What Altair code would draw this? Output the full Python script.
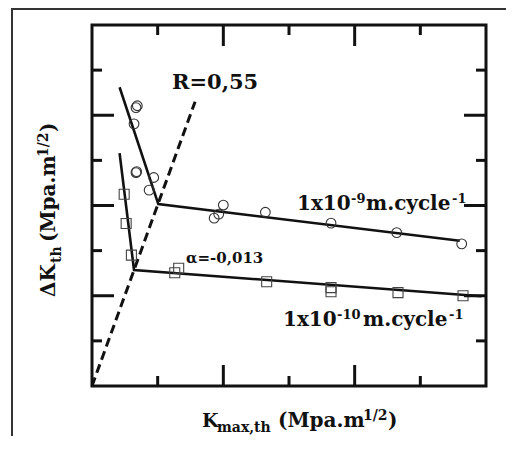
import altair as alt
import pandas as pd

# ---- data ----
circle_x = [0.69, 0.67, 0.64, 0.68, 0.67, 0.94, 0.87, 2.00, 1.93, 1.86, 2.64, 3.64, 4.64, 5.63]
circle_y = [6.21, 6.17, 5.81, 4.75, 4.73, 4.62, 4.34, 4.01, 3.81, 3.72, 3.85, 3.61, 3.40, 3.15]
square_x = [0.49, 0.52, 0.60, 1.32, 1.26, 2.66, 3.64, 3.64, 4.66, 5.65]
square_y = [4.25, 3.60, 2.90, 2.61, 2.51, 2.31, 2.18, 2.09, 2.07, 2.00]
fit9_x = [0.42, 1.01, 5.60]
fit9_y = [6.62, 4.03, 3.22]
fit10_x = [0.42, 0.64, 5.93]
fit10_y = [5.16, 2.57, 1.99]
rline_x = [0.0, 1.57]
rline_y = [0.0, 6.30]
x_minor = [1, 3, 5]
x_major = [2, 4]
y_minor = [1, 3, 5, 7]
y_major = [2, 4, 6]

W, H = 394, 361
PAD = {"left": 84, "top": 17, "right": 25, "bottom": 56}
FONT = "DejaVu Serif"
INK = "#111"

xs = alt.Scale(domain=[0, 6], nice=False, zero=False)
ys = alt.Scale(domain=[0, 8], nice=False, zero=False)


def X(f):
    return alt.X(f, type="quantitative", scale=xs, axis=None)


def Y(f):
    return alt.Y(f, type="quantitative", scale=ys, axis=None)


def line_df(xv, yv):
    return pd.DataFrame({"x": xv, "y": yv, "i": list(range(len(xv)))})


circles = alt.Chart(pd.DataFrame({"x": circle_x, "y": circle_y})).mark_point(
    shape="circle", filled=False, size=95, stroke="#333", strokeWidth=1.1, opacity=1
).encode(x=X("x"), y=Y("y"))

squares = alt.Chart(pd.DataFrame({"x": square_x, "y": square_y})).mark_point(
    shape="square", filled=False, size=100, stroke="#444", strokeWidth=1.1, opacity=1
).encode(x=X("x"), y=Y("y"))

fit9 = alt.Chart(line_df(fit9_x, fit9_y)).mark_line(color=INK, strokeWidth=2.6).encode(
    x=X("x"), y=Y("y"), order="i:O")
fit10 = alt.Chart(line_df(fit10_x, fit10_y)).mark_line(color=INK, strokeWidth=2.6).encode(
    x=X("x"), y=Y("y"), order="i:O")
rline = alt.Chart(line_df(rline_x, rline_y)).mark_line(
    color=INK, strokeWidth=3, strokeDash=[9, 5]).encode(x=X("x"), y=Y("y"), order="i:O")


def xticks(vals, length):
    base = alt.Chart(pd.DataFrame({"v": vals})).mark_rule(color=INK, strokeWidth=3)
    bot = base.encode(x=X("v"), y=alt.value(H), y2=alt.value(H - length))
    top = base.encode(x=X("v"), y=alt.value(0), y2=alt.value(length))
    return bot + top


def yticks(vals, length):
    base = alt.Chart(pd.DataFrame({"v": vals})).mark_rule(color=INK, strokeWidth=3)
    left = base.encode(y=Y("v"), x=alt.value(0), x2=alt.value(length))
    right = base.encode(y=Y("v"), x=alt.value(W), x2=alt.value(W - length))
    return left + right


ticks = xticks(x_minor, 10) + xticks(x_major, 21) + yticks(y_minor, 10) + yticks(y_major, 22)


def dlabel(text, x, y, size, dy=0):
    return alt.Chart(pd.DataFrame({"x": [x], "y": [y], "t": [text]})).mark_text(
        font=FONT, fontWeight="bold", fontSize=size, align="left",
        baseline="alphabetic", dy=dy, color=INK
    ).encode(x=X("x"), y=Y("y"), text="t:N")


def plabel(text, px, py, size, angle=0):
    return alt.Chart(pd.DataFrame({"t": [text]})).mark_text(
        font=FONT, fontWeight="bold", fontSize=size, align="left",
        baseline="alphabetic", angle=angle, color=INK
    ).encode(x=alt.value(px), y=alt.value(py), text="t:N")


def px2x(p):
    return p / (W / 6.0)


labels = [
    dlabel("R=0,55", 1.218, 6.58, 21),
    # 1x10^-9 m.cycle^-1
    dlabel("1x10", px2x(205), 3.91, 20),
    dlabel("-9", px2x(259), 3.91, 13, dy=-7),
    dlabel("m.cycle", px2x(274), 3.91, 20),
    dlabel("-1", px2x(360), 3.91, 13, dy=-7),
    # 1x10^-10 m.cycle^-1
    dlabel("1x10", px2x(191), 1.32, 20),
    dlabel("-10", px2x(245), 1.32, 13, dy=-7),
    dlabel("m.cycle", px2x(271), 1.32, 20),
    dlabel("-1", px2x(357), 1.32, 13, dy=-7),
    dlabel("α=-0,013", 1.431, 2.72, 15),
    # x title (pixel positions relative to plot origin)
    plabel("K", 110, 402, 19),
    plabel("max,th", 125, 407, 14),
    plabel("(Mpa.m", 186, 402, 20),
    plabel("1/2", 271, 395, 14),
    plabel(")", 296, 402, 20),
    # y title (rotated)
    plabel("ΔK", -37, 272, 20, angle=270),
    plabel("th", -31, 238, 14, angle=270),
    plabel("(Mpa.m", -37, 217, 20, angle=270),
    plabel("1/2", -44, 132, 14, angle=270),
    plabel(")", -37, 107, 20, angle=270),
]

# outer figure frame (its right and bottom edges lie outside the picture)
border_top = alt.Chart(pd.DataFrame({"a": [0]})).mark_rule(
    stroke="#333", strokeWidth=2
).encode(x=alt.value(-81), x2=alt.value(W + 20), y=alt.value(-16))
border_left = alt.Chart(pd.DataFrame({"a": [0]})).mark_rule(
    stroke="#333", strokeWidth=2
).encode(x=alt.value(-80), y=alt.value(-17), y2=alt.value(H + 50))

chart = alt.layer(border_top, border_left, rline, fit9, fit10, circles, squares, ticks, *labels).properties(
    width=W, height=H,
    autosize=alt.AutoSizeParams(type="none"),
    padding=PAD,
    background="white",
).configure_view(stroke=INK, strokeWidth=3).configure_axis(disable=True)

chart.save("out.html", embed_options={"renderer": "svg", "actions": False})
